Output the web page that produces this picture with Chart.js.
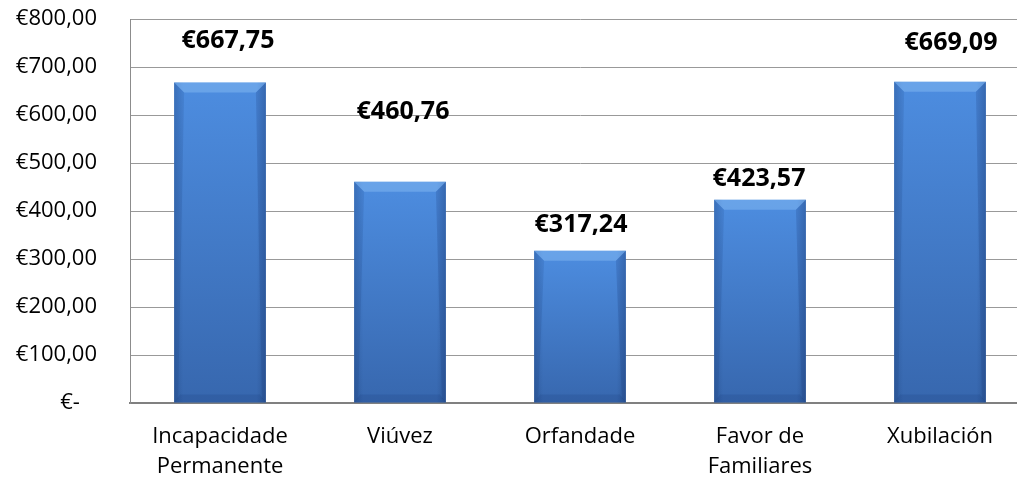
<!DOCTYPE html>
<html>
<head>
<meta charset="utf-8">
<script src="https://cdn.jsdelivr.net/npm/chart.js@4/dist/chart.umd.min.js"></script>
<style>
  html, body { margin: 0; padding: 0; background: #fff; overflow: hidden; }
  #wrap { width: 1030px; height: 484px; position: relative; }
</style>
</head>
<body>
<div id="wrap"><canvas id="c" width="1030" height="484"></canvas></div>
<script>
const categories = [["Incapacidade", "Permanente"], "Viúvez", "Orfandade", ["Favor de", "Familiares"], "Xubilación"];
const values = [667.75, 460.76, 317.24, 423.57, 669.09];
const valueLabels = ["€667,75", "€460,76", "€317,24", "€423,57", "€669,09"];
const tickLabels = { 0: "€-", 100: "€100,00", 200: "€200,00", 300: "€300,00", 400: "€400,00", 500: "€500,00", 600: "€600,00", 700: "€700,00", 800: "€800,00" };

const labelOffsets = [{dx: 8, dy: 42}, {dx: 3, dy: 70}, {dx: 1, dy: 26}, {dx: -1, dy: 21}, {dx: 11, dy: 39}];

const bevelPlugin = {
  id: 'bevel',
  afterDatasetsDraw(chart) {
    const ctx = chart.ctx;
    const meta = chart.getDatasetMeta(0);
    meta.data.forEach((bar) => {
      const w = bar.width;
      const l = bar.x - w / 2, r = bar.x + w / 2, t = bar.y, b = bar.base;
      const bv = 10;
      ctx.save();
      const hg = ctx.createLinearGradient(l, 0, r, 0);
      hg.addColorStop(0, 'rgba(0,20,60,0.16)');
      hg.addColorStop(0.1, 'rgba(0,20,60,0.0)');
      hg.addColorStop(0.9, 'rgba(0,20,60,0.0)');
      hg.addColorStop(1, 'rgba(0,20,60,0.2)');
      ctx.fillStyle = hg;
      ctx.fillRect(l, t, w, b - t);
      ctx.beginPath();
      ctx.moveTo(l, t); ctx.lineTo(r, t); ctx.lineTo(r - bv, t + bv); ctx.lineTo(l + bv, t + bv); ctx.closePath();
      ctx.fillStyle = 'rgba(140,190,245,0.45)';
      ctx.fill();
      ctx.beginPath();
      ctx.moveTo(l, t); ctx.lineTo(l + bv, t + bv); ctx.lineTo(l + 4, b - 4); ctx.lineTo(l, b); ctx.closePath();
      ctx.fillStyle = 'rgba(20,50,110,0.12)';
      ctx.fill();
      ctx.beginPath();
      ctx.moveTo(r, t); ctx.lineTo(r - bv, t + bv); ctx.lineTo(r - 4, b - 4); ctx.lineTo(r, b); ctx.closePath();
      ctx.fillStyle = 'rgba(20,50,110,0.18)';
      ctx.fill();
      ctx.beginPath();
      ctx.moveTo(l, b); ctx.lineTo(l + 6, b - 8); ctx.lineTo(r - 6, b - 8); ctx.lineTo(r, b); ctx.closePath();
      ctx.fillStyle = 'rgba(20,50,110,0.16)';
      ctx.fill();
      ctx.restore();
    });
  }
};

const labelPlugin = {
  id: 'valueLabels',
  afterDatasetsDraw(chart) {
    const ctx = chart.ctx;
    const meta = chart.getDatasetMeta(0);
    ctx.save();
    ctx.font = 'bold 25px "Open Sans"';
    ctx.fillStyle = '#000';
    ctx.textAlign = 'center';
    ctx.textBaseline = 'middle';
    meta.data.forEach((bar, i) => {
      const o = labelOffsets[i];
      ctx.fillText(valueLabels[i], bar.x + o.dx, bar.y - o.dy);
    });
    ctx.restore();
  }
};

const ctx = document.getElementById('c').getContext('2d');
new Chart(ctx, {
  type: 'bar',
  data: {
    labels: categories,
    datasets: [{
      data: values,
      backgroundColor: (c) => {
        const ys = c.chart.scales && c.chart.scales.y;
        if (!ys || c.parsed == null || !c.chart.chartArea) return '#4178c8';
        const top = ys.getPixelForValue(c.parsed.y);
        const bottom = ys.getPixelForValue(0);
        if (!isFinite(top) || !isFinite(bottom) || bottom <= top) return '#4178c8';
        const g = c.chart.ctx.createLinearGradient(0, top, 0, bottom);
        g.addColorStop(0, '#4d8de0');
        g.addColorStop(1, '#3767ae');
        return g;
      },
      borderWidth: 0,
      barPercentage: 0.51,
      categoryPercentage: 1.0
    }]
  },
  options: {
    responsive: false,
    animation: false,
    devicePixelRatio: 1,
    layout: { padding: { top: 19, left: 0, right: 0, bottom: 0 } },
    plugins: { legend: { display: false }, tooltip: { enabled: false } },
    scales: {
      x: {
        grid: { display: false, drawTicks: false },
        border: { display: true, color: '#808080', width: 2 },
        ticks: {
          color: '#000',
          font: { family: '"Open Sans"', size: 22, lineHeight: 1.35 },
          padding: 19,
          maxRotation: 0,
          autoSkip: false
        },
        afterFit(scale) { scale.height = 81; }
      },
      y: {
        min: 0, max: 800,
        grid: { color: '#999999', lineWidth: 1, drawTicks: false },
        border: { display: true, color: '#8c8c8c', width: 1 },
        ticks: {
          stepSize: 100,
          color: '#000',
          font: { family: '"Open Sans"', size: 22 },
          padding: 33,
          callback: (v) => (v === 0 ? tickLabels[0] + '   ' : tickLabels[v])
        },
        afterFit(scale) { scale.width = 130; scale.paddingTop = 0; scale.paddingBottom = 0; }
      }
    }
  },
  plugins: [bevelPlugin, labelPlugin]
});
</script>
</body>
</html>
